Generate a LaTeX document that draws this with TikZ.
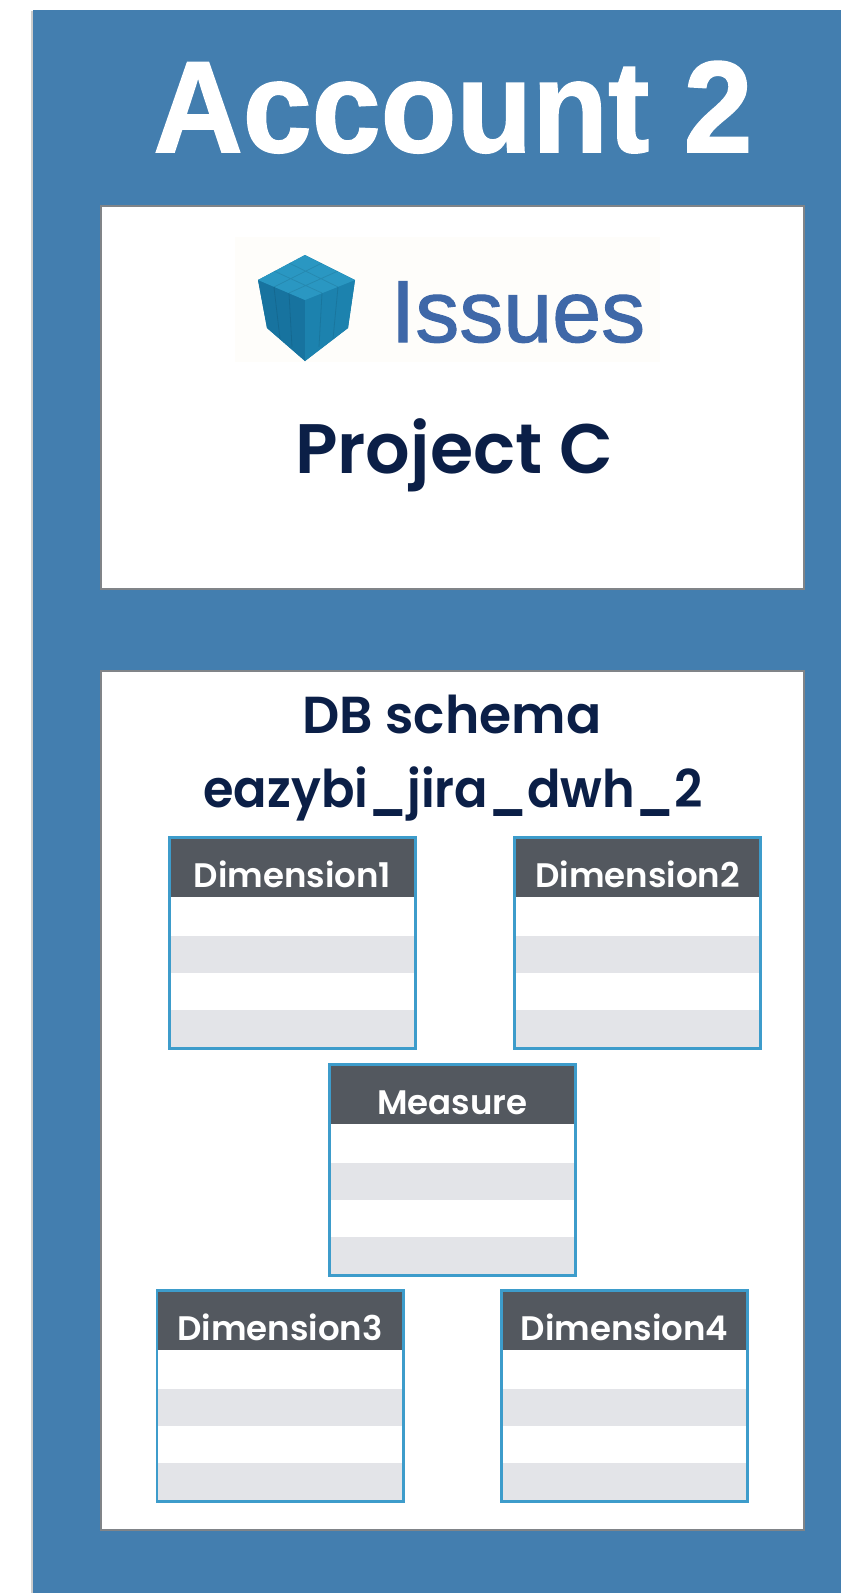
\documentclass[tikz,border=0pt]{standalone}
\usepackage{fontspec}
\setmainfont{Liberation Sans}
\newfontfamily\geofont{Poppins SemiBold}
\newfontfamily\heavyfont[FakeBold=1.2]{Liberation Sans Bold}
\newfontfamily\logofont[FakeBold=1.2]{Liberation Sans}
\usetikzlibrary{calc}
\definecolor{panelblue}{HTML}{437EAF}
\definecolor{boxgrey}{HTML}{808488}
\definecolor{tableblue}{HTML}{3D9CCB}
\definecolor{headgrey}{HTML}{53585F}
\definecolor{rowgrey}{HTML}{E3E4E8}
\definecolor{navy}{HTML}{0B1F47}
\definecolor{issuetext}{HTML}{3F68A8}
\definecolor{cubetop}{HTML}{2A97C2}
\definecolor{cubeleft}{HTML}{17739F}
\definecolor{cuberight}{HTML}{1C82AE}
\definecolor{logobg}{HTML}{FEFDFA}
\tikzset{
  x=1pt,y=-1pt,
  whitebox/.style={draw=boxgrey,line width=2.4pt,fill=white,anchor=north west,inner sep=0pt},
  headlabel/.style={anchor=base,inner sep=0pt,text=white,font=\geofont\fontsize{34}{34}\selectfont},
  navylabel/.style={anchor=base,inner sep=0pt,text=navy},
  tableframe/.style={draw=tableblue,line width=2.7pt,anchor=north west,minimum width=246.3pt,minimum height=211.3pt,inner sep=0pt},
  facet/.style={line width=.8pt,draw=black,draw opacity=.09},
}
% #1 name, #2 left, #3 top, #4 label
\newcommand{\dbtable}[4]{%
  \fill[white] (#2,#3) rectangle ++(249,214);
  \fill[headgrey] (#2,#3) rectangle ++(249,61);
  \fill[rowgrey] ($(#2,#3)+(0,100)$) rectangle ++(249,37);
  \fill[rowgrey] ($(#2,#3)+(0,174)$) rectangle ++(249,37);
  \node[tableframe] (#1) at (#2,#3) {};
  \node[headlabel] (#1label) at ($(#2,#3)+(124.5,51)$) {#4};
}
\begin{document}
\begin{tikzpicture}
\useasboundingbox (0,0) rectangle (841,1593);
\fill[white] (0,0) rectangle (841,1593);
\fill[black!20] (31,11) rectangle (33,1593);
\fill[panelblue] (33,10) rectangle (841,1593);
\node[anchor=base,inner sep=0pt,text=white,font=\heavyfont\fontsize{124}{124}\selectfont] (title) at (453,152) {\scalebox{1}[1.05]{Account 2}};
% Project box
\node[whitebox,minimum width=703pt,minimum height=382.5pt] (projectbox) at (99.5,205) {};
\fill[logobg] (235,237) rectangle (660,362);
% cube logo
\fill[cuberight] (305,255) -- (355,280) -- (348,328) -- (305,361) -- (267,328) -- (258,280) -- cycle;
\fill[cubeleft] (305,300) -- (258,280) -- (267,328) -- (305,361) -- cycle;
\fill[cuberight] (305,300) -- (355,280) -- (348,328) -- (305,361) -- cycle;
\fill[cubetop] (305,255) -- (355,280) -- (305,300) -- (258,280) -- cycle;
\draw[facet] (289,293) -- (292,347) (274,287) -- (280,339) (322,293) -- (319,347) (338,287) -- (333,339);
\draw[facet] (289,263) -- (338,287) (274,271) -- (322,293) (322,263) -- (274,287) (338,271) -- (289,293);
\node[anchor=base,inner sep=0pt,text=issuetext,font=\logofont\fontsize{88}{88}\selectfont] (issues) at (518,342) {Issues};
\node[navylabel,font=\geofont\fontsize{70}{70}\selectfont] (project) at (454,473) {Project C};
% DB box
\node[whitebox,minimum width=703pt,minimum height=859pt] (dbbox) at (99.5,670) {};
\node[navylabel,font=\geofont\fontsize{52}{52}\selectfont] (dbtitle) at (452,733) {DB schema};
\node[navylabel,font=\geofont\fontsize{52}{52}\selectfont] (dbname) at (453,807) {\scalebox{.95}[1]{eazybi\_jira\_dwh\_2}};
\dbtable{dimone}{168}{836}{Dimension1}
\dbtable{dimtwo}{513}{836}{Dimension2}
\dbtable{measure}{328}{1063}{Measure}
\dbtable{dimthree}{155.5}{1289}{Dimension3}
\dbtable{dimfour}{500}{1289}{Dimension4}
\end{tikzpicture}
\end{document}
